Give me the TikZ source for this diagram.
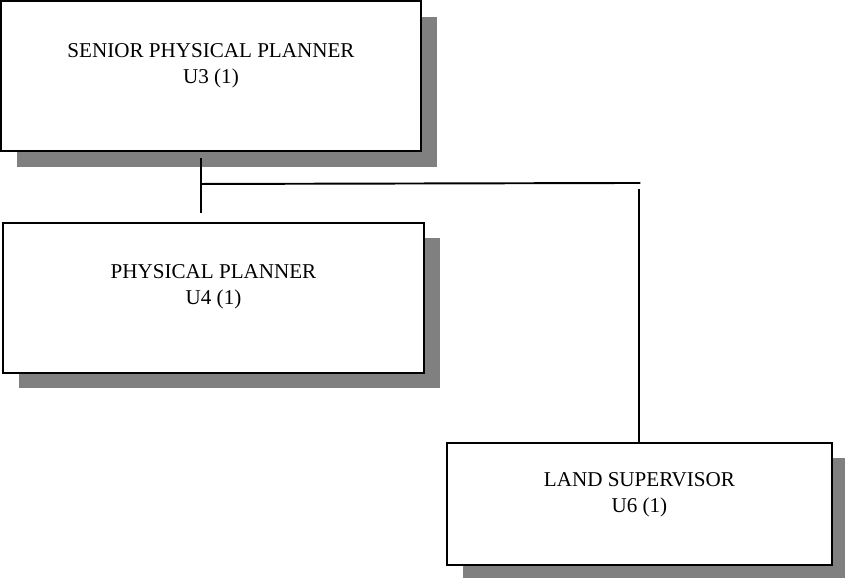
\documentclass[tikz,border=0pt]{standalone}
\usepackage{fontspec}
\setmainfont{Liberation Serif}
\usetikzlibrary{positioning,shadows}

\begin{document}
\begin{tikzpicture}[node distance=1.4cm]
	\tikzstyle{post}=[draw, rectangle, line width=1.1pt, fill=white, minimum width=8.4cm, minimum height=3cm, drop shadow={shadow xshift=0.32cm, shadow yshift=-0.31cm, fill=black!50, opacity=1}]
	\tikzstyle{post_small}=[post, minimum width=7.7cm, minimum height=2.44cm]
	\tikzstyle{title}=[inner sep=0pt, align=center, font=\fontsize{12}{14.7}\selectfont]
	\tikzstyle{link}=[line width=1.1pt]

	\useasboundingbox (0,0) rectangle (16.9,-11.54);

	\node[post] (u3) at (4.22,-1.52) {};
	\node[post, minimum width=8.42cm] (u4) [below=of u3, xshift=0.05cm] {};
	\node[post_small] (u6) [below right=1.36cm and 0.42cm of u4] {};

	\node[title, anchor=north] (u3t) [below=0.86cm of u3.north] {SENIOR PHYSICAL PLANNER\\U3 (1)};
	\node[title, anchor=north] (u4t) [below=0.84cm of u4.north] {PHYSICAL PLANNER\\U4 (1)};
	\node[title, anchor=north] (u6t) [below=0.6cm of u6.north] {LAND SUPERVISOR\\U6 (1)};

	\coordinate[shift={(-0.2cm,-0.64cm)}] (j) at (u3.south);
	\coordinate[shift={(0.02cm,0.02cm)}] (k) at (j -| u6.north);

	\draw[link] ([yshift=-0.12cm]u3.south -| j) -- ([yshift=0.18cm]u4.north -| j);
	\draw[link] (j) -- (k);
	\draw[link] ([yshift=-0.12cm]k -| u6.north) -- (u6.north);
\end{tikzpicture}
\end{document}
